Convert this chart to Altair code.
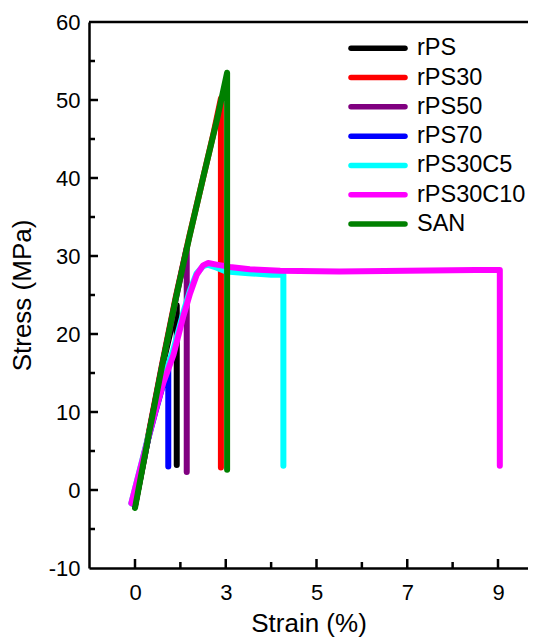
import altair as alt
import pandas as pd

# ---------------- data ----------------
names = ["rPS", "rPS30", "rPS50", "rPS70", "rPS30C5", "rPS30C10", "SAN"]
colors = ["#000000", "#ff0000", "#800080", "#0000ff", "#00ffff", "#ff00ff", "#008000"]

rps_x = [0.0, 0.45, 0.9, 1.38, 1.38]
rps_y = [-2.0, 6.9, 15.8, 23.7, 3.2]

rps30_x = [0.0, 0.45, 0.9, 1.35, 1.8, 2.25, 2.6, 2.84, 2.84]
rps30_y = [-2.0, 7.2, 16.2, 24.8, 32.6, 40.0, 45.8, 50.2, 2.9]

rps50_x = [0.0, 0.45, 0.9, 1.35, 1.71, 1.71]
rps50_y = [-2.0, 7.0, 16.0, 24.5, 31.0, 2.3]

rps70_x = [-0.05, 0.33, 0.66, 0.94, 1.10, 1.10]
rps70_y = [-1.8, 5.0, 9.8, 13.7, 15.6, 3.0]

c5_x = [-0.12, 0.33, 0.66, 0.94, 1.27, 1.6, 1.82, 2.04, 2.25, 2.4, 2.7, 3.02, 3.5, 4.0, 4.27, 4.27]
c5_y = [-1.7, 5.2, 10.2, 14.3, 18.0, 22.8, 25.6, 27.8, 28.7, 28.9, 28.5, 28.0, 27.8, 27.6, 27.6, 3.1]

c10_x = [-0.12, 0.33, 0.66, 0.94, 1.27, 1.6, 1.82, 2.04, 2.25, 2.42, 2.7, 3.09, 3.53, 4.2, 5.5, 7.0, 8.5, 9.04, 9.04]
c10_y = [-1.7, 5.1, 9.9, 13.8, 17.3, 22.3, 25.2, 27.6, 28.8, 29.1, 28.9, 28.6, 28.3, 28.1, 28.0, 28.1, 28.2, 28.2, 3.1]

san_x = [0.0, 0.45, 0.9, 1.35, 1.8, 2.25, 2.7, 3.03, 3.03]
san_y = [-2.3, 7.0, 16.0, 24.6, 32.5, 40.0, 47.3, 53.5, 2.6]

series_x = [rps_x, rps30_x, rps50_x, rps70_x, c5_x, c10_x, san_x]
series_y = [rps_y, rps30_y, rps50_y, rps70_y, c5_y, c10_y, san_y]

x_label_ticks = [0, 3, 5, 7, 9]
x_minor_ticks = [1.5, 4, 6, 8]
y_label_ticks = [-10, 0, 10, 20, 30, 40, 50, 60]
y_major_ticks = [0, 10, 20, 30, 40, 50]
y_minor_ticks = [-5, 5, 15, 25, 35, 45, 55]

# ---------------- layout ----------------
W, H = 439, 546
FONT = "Liberation Sans"

xscale = alt.Scale(type="linear",
                   domain=[-1.5, 0, 3, 5, 7, 9, 9.661],
                   range=[0, 46, 136.75, 227.5, 318.25, 409, 439],
                   nice=False, zero=False)
yscale = alt.Scale(domain=[-10, 60], nice=False, zero=False)

common_axis = dict(ticks=False, tickSize=0, grid=False, labelFontSize=22, titleFontSize=26,
                   domainWidth=2.5, domainColor="black", labelColor="black",
                   titleColor="black", labelFont=FONT, titleFont=FONT,
                   titleFontWeight="normal", labelFlush=False, labelOverlap=False,
                   labelExpr="'' + datum.value")
xaxis = alt.Axis(values=x_label_ticks, title="Strain (%)", labelPadding=14, titlePadding=7,
                 **common_axis)
yaxis = alt.Axis(values=y_label_ticks, title="Stress (MPa)", labelPadding=9, titlePadding=13,
                 **common_axis)

X_ENC = alt.X("x:Q", scale=xscale, axis=xaxis)
Y_ENC = alt.Y("y:Q", scale=yscale, axis=yaxis)

layers = []
for xs, ys, c in zip(series_x, series_y, colors):
    df = pd.DataFrame({"x": xs, "y": ys, "i": list(range(len(xs)))})
    layers.append(
        alt.Chart(df).mark_line(color=c, strokeWidth=6, strokeCap="round", strokeJoin="round")
        .encode(x=X_ENC, y=Y_ENC, order="i:Q")
    )

# inward ticks
layers.append(alt.Chart(pd.DataFrame({"x": x_label_ticks})).mark_rule(color="black", strokeWidth=2.5)
              .encode(x=X_ENC, y=alt.value(H), y2=alt.value(H - 9)))
layers.append(alt.Chart(pd.DataFrame({"x": x_minor_ticks})).mark_rule(color="black", strokeWidth=2.5)
              .encode(x=X_ENC, y=alt.value(H), y2=alt.value(H - 6)))
layers.append(alt.Chart(pd.DataFrame({"y": y_major_ticks})).mark_rule(color="black", strokeWidth=2.5)
              .encode(y=Y_ENC, x=alt.value(0), x2=alt.value(9)))
layers.append(alt.Chart(pd.DataFrame({"y": y_minor_ticks})).mark_rule(color="black", strokeWidth=2.5)
              .encode(y=Y_ENC, x=alt.value(0), x2=alt.value(6)))
# top frame line
layers.append(alt.Chart(pd.DataFrame({"a": [0]})).mark_rule(color="black", strokeWidth=2.5)
              .encode(x=alt.value(0), x2=alt.value(W), y=alt.value(0)))

main = alt.layer(*layers)

# custom legend
leg_df = pd.DataFrame({"name": names})
LY = alt.Y("name:N", scale=alt.Scale(type="point", domain=names, range=[26.3, 202], padding=0), axis=None)
LC = alt.Color("name:N", scale=alt.Scale(domain=names, range=colors), legend=None)
leg_lines = alt.Chart(leg_df).mark_rule(strokeWidth=5.5, strokeCap="round").encode(
    x=alt.value(262), x2=alt.value(316), y=LY, color=LC)
leg_text = alt.Chart(leg_df).mark_text(align="left", baseline="middle", fontSize=23.5, font=FONT,
                                       color="black").encode(
    x=alt.value(328), y=LY, text="name:N")
legend = alt.layer(leg_lines, leg_text)

chart = (
    alt.layer(main, legend)
    .resolve_scale(y="independent")
    .properties(width=W, height=H,
                padding={"left": 81, "top": 14, "right": 0, "bottom": 71},
                autosize=alt.AutoSizeParams(type="none"))
    .configure_view(strokeWidth=0)
)

chart.save("out.html", embed_options={"renderer": "svg", "actions": False})
